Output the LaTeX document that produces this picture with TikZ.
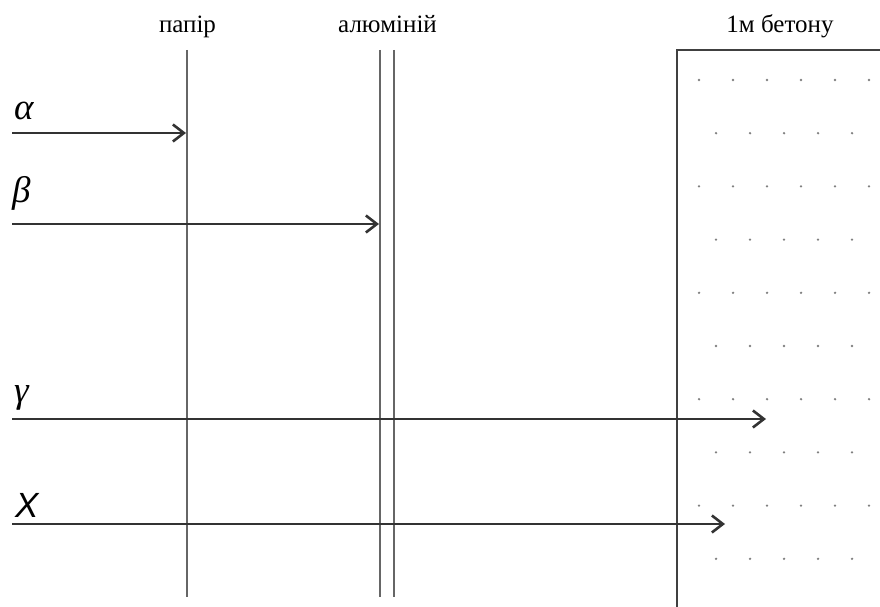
\documentclass[tikz,border=0pt]{standalone}
\usepackage{fontspec}
\setmainfont{Liberation Serif}
\newfontfamily\labelsans{Liberation Sans}
\usetikzlibrary{arrows.meta}
\begin{document}
\begin{tikzpicture}[x=1pt,y=-1pt,
  barrier/.style={draw=black!60,line width=1.5pt},
  ray/.style={draw=black!80,line width=2.6pt,-{Straight Barb[length=11pt,width=17pt,line width=2.6pt]}},
  layerlabel/.style={font=\fontsize{25}{25}\selectfont,inner sep=0pt,anchor=base},
  greek/.style={inner sep=0pt,anchor=base west,font=\fontsize{37}{37}\selectfont\itshape},
  grain/.style={fill=black!50,draw=none}]
\useasboundingbox (0,0) rectangle (880,607);

% absorbers: paper sheet, aluminium plate, concrete block
\coordinate (paperT) at (187,50);   \coordinate (paperB) at (187,597);
\coordinate (alAT) at (380,50);     \coordinate (alAB) at (380,597);
\coordinate (alBT) at (394,50);     \coordinate (alBB) at (394,597);
\coordinate (conTR) at (880,50);    \coordinate (conTL) at (677,50);
\coordinate (conBL) at (677,607);
\draw[barrier] (paperT) -- (paperB);
\draw[barrier] (alAT) -- (alAB);
\draw[barrier] (alBT) -- (alBB);
\draw[draw=black!75,line width=2.6pt] (conBL) -- (conTL) -- (conTR);

% concrete texture
\foreach \r in {0,2,4,6,8} {
  \foreach \k in {0,...,5} {
    \fill[grain] (699+34*\k,80+53.2*\r) circle (1.3pt);
  }
}
\foreach \r in {1,3,5,7,9} {
  \foreach \k in {0,...,4} {
    \fill[grain] (716+34*\k,80+53.2*\r) circle (1.3pt);
  }
}

% labels of the absorbers
\node[layerlabel] (lpaper) at (187.5,33) {папір};
\node[layerlabel] (lal) at (387.5,33) {алюміній};
\node[layerlabel] (lcon) at (780,33) {1м бетону};

% radiation
\coordinate (aS) at (12,133);  \coordinate (aE) at (186,133);
\coordinate (bS) at (12,224);  \coordinate (bE) at (379,224);
\coordinate (gS) at (12,419);  \coordinate (gE) at (766,419);
\coordinate (xS) at (12,524);  \coordinate (xE) at (725,524);
\draw[ray] (aS) -- (aE);
\draw[ray] (bS) -- (bE);
\draw[ray] (gS) -- (gE);
\draw[ray] (xS) -- (xE);

\node[greek] (la) at (14,120) {α};
\node[greek] (lb) at (12,202) {β};
\node[greek] (lg) at (14,402) {γ};
\node[inner sep=0pt,anchor=base west,font=\fontsize{35}{35}\labelsans\itshape] (lx) at (15,517) {X};
\end{tikzpicture}
\end{document}
